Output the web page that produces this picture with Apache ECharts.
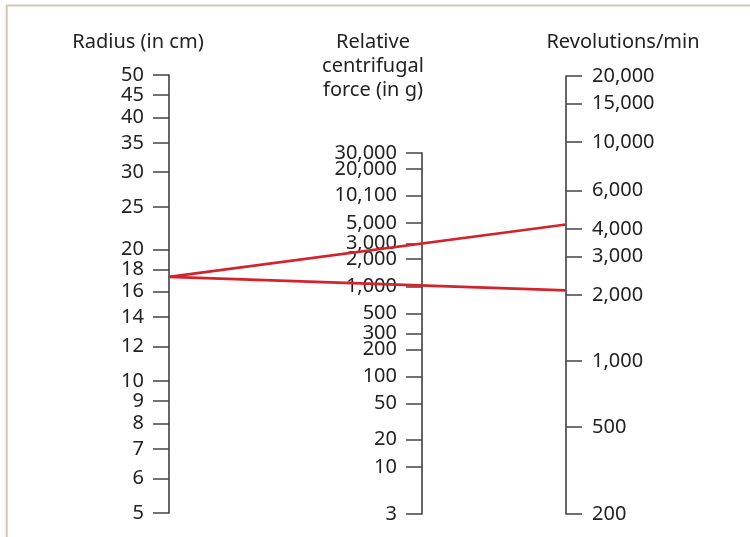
<!DOCTYPE html>
<html>
<head>
<meta charset="utf-8">
<script src="https://cdn.jsdelivr.net/npm/echarts@6/dist/echarts.min.js"></script>
<style>
  html, body { margin: 0; padding: 0; background: #fff; }
  #nomogram { width: 750px; height: 537px; }
</style>
</head>
<body>
<div id="nomogram"></div>
<script>
// scale tick values (the 10,100 label is printed that way in the original)
const radiusTicks = [5, 6, 7, 8, 9, 10, 12, 14, 16, 18, 20, 25, 30, 35, 40, 45, 50];
const rcfTicks = [3, 10, 20, 50, 100, 200, 300, 500, 1000, 2000, 3000, 5000, 10100, 20000, 30000];
const rpmTicks = [200, 500, 1000, 2000, 3000, 4000, 6000, 10000, 15000, 20000];

// worked example drawn in red
const radiusMark = 17.3;
const rpmMarks = [4200, 2100];

const titles = ["Radius (in cm)", "Relative\ncentrifugal\nforce (in g)", "Revolutions/min"];

const FONT = "'Noto Sans', 'Open Sans', sans-serif";
const lg = Math.log10;
const EPS = 1e-7; // keep end ticks inside the extent

function fmt(v) {
  return Math.round(Math.pow(10, v)).toLocaleString("en-US");
}

// each scale = two stacked log-valued axes (even / odd ticks) so that
// crowded neighbouring labels are not dropped by the overlap check
function scaleAxes(gridIndex, ticks, side) {
  const min = lg(ticks[0]) - EPS;
  const max = lg(ticks[ticks.length - 1]) + EPS;
  return [0, 1].map((part) => {
    const vals = ticks.map(lg).filter((v, i) => i % 2 === part);
    return {
      type: "value",
      gridIndex: gridIndex,
      position: side,
      offset: 0,
      min: min,
      max: max,
      axisLine: { show: part === 0, onZero: false, lineStyle: { color: "#333", width: 1.5 } },
      axisTick: {
        show: true,
        length: 16,
        customValues: vals,
        lineStyle: { color: "#444", width: 1.5 },
      },
      axisLabel: {
        customValues: vals,
        margin: side === "right" ? 26 : 25,
        formatter: fmt,
        color: "#222",
        fontSize: 20,
        fontFamily: FONT,
        hideOverlap: false,
        showMinLabel: true,
        showMaxLabel: true,
      },
      splitLine: { show: false },
    };
  });
}

let chart = echarts.init(document.getElementById("nomogram"));

chart.setOption({
  animation: false,
  title: [
    { text: titles[0], left: 138, top: 30 },
    { text: titles[1], left: 373, top: 30 },
    { text: titles[2], left: 623, top: 30 },
  ].map((t) => ({
    ...t,
    textAlign: "center",
    padding: 0,
    textStyle: { fontSize: 20, fontWeight: "normal", fontFamily: FONT, color: "#222", lineHeight: 24 },
  })),
  grid: [
    { left: 169, width: 50, top: 75, height: 438, outerBoundsMode: "none" },
    { left: 422, width: 50, top: 153, height: 361, outerBoundsMode: "none" },
    { left: 516, width: 50, top: 76, height: 438, outerBoundsMode: "none" },
  ],
  xAxis: [0, 1, 2].map((i) => ({ type: "value", gridIndex: i, min: 0, max: 1, show: false })),
  yAxis: [
    ...scaleAxes(0, radiusTicks, "left"),
    ...scaleAxes(1, rcfTicks, "left"),
    ...scaleAxes(2, rpmTicks, "right"),
  ],
  series: [],
});

// red reading lines from the radius scale to the rpm scale
const start = chart.convertToPixel({ gridIndex: 0 }, [0, lg(radiusMark)]);
const readLines = rpmMarks.map((rpm) => {
  const end = chart.convertToPixel({ gridIndex: 2 }, [1, lg(rpm)]);
  return {
    type: "line",
    z: 100,
    shape: { x1: start[0], y1: start[1], x2: end[0], y2: end[1] },
    style: { stroke: "#d3232d", lineWidth: 2.6 },
  };
});

chart.setOption({
  graphic: [
    {
      type: "polyline",
      z: 1,
      shape: { points: [[6.7, 537], [6.7, 5.5], [750, 5.5]] },
      style: { stroke: "#cfc8bc", lineWidth: 2, fill: null },
    },
    ...readLines,
  ],
});
</script>
</body>
</html>
